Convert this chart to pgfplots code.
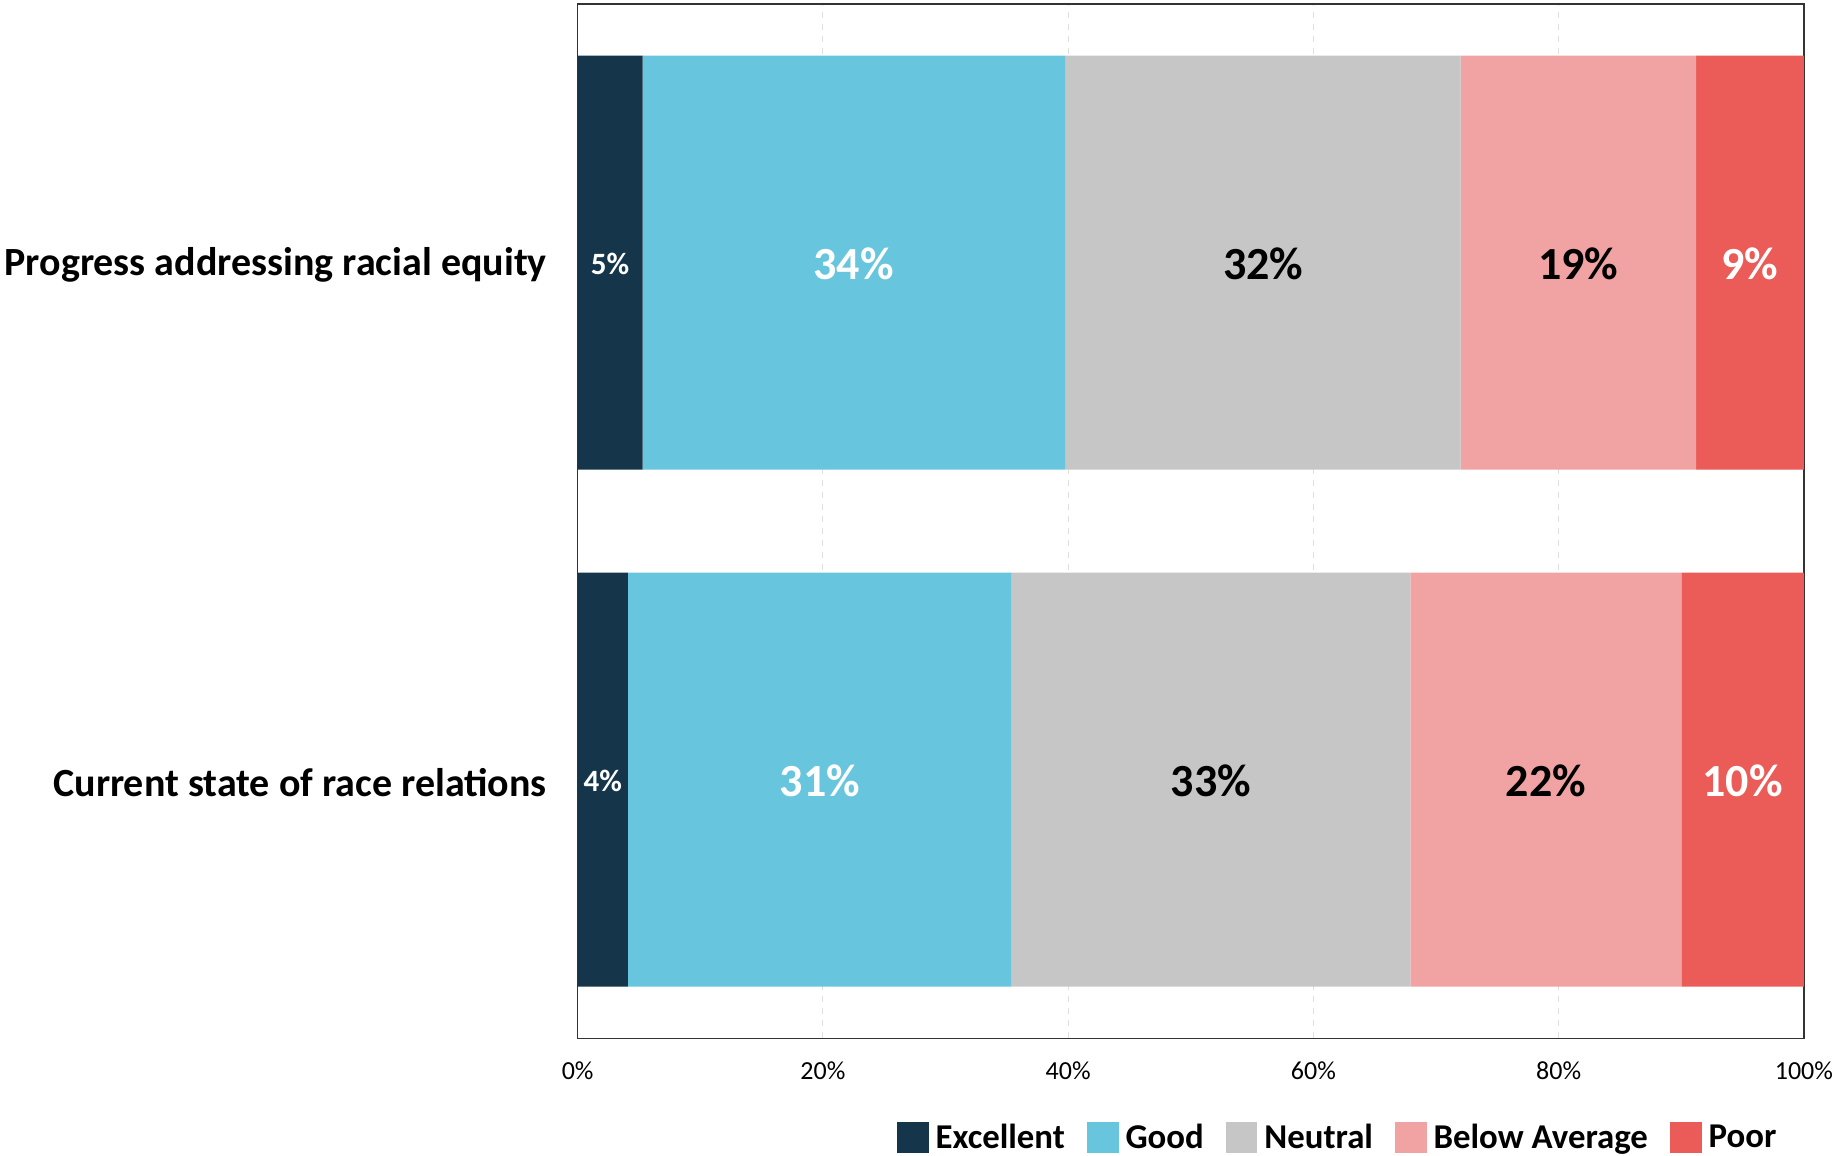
\documentclass[border=0pt]{standalone}
\usepackage{pgfplots}
\pgfplotsset{compat=1.18}
\usepackage{fontspec}
\setmainfont{Carlito}
\definecolor{cExc}{HTML}{15354A}
\definecolor{cGood}{HTML}{68C5DE}
\definecolor{cNeu}{HTML}{C6C6C6}
\definecolor{cBel}{HTML}{F0A3A2}
\definecolor{cPoor}{HTML}{EB5B57}
\tikzset{big/.style={font=\fontsize{23}{26}\selectfont\bfseries, yshift=-0.5pt},
         sm/.style={font=\fontsize{15.5}{18}\selectfont\bfseries, yshift=-0.5pt}}
\begin{document}
\begin{tikzpicture}
\begin{axis}[
  scale only axis,
  width=613pt, height=517pt,
  xbar stacked,
  bar width=207pt,
  xmin=0, xmax=100,
  ymin=-0.5, ymax=1.5,
  ytick={0,1},
  yticklabels={Current state of race relations, Progress addressing racial equity},
  yticklabel style={font=\fontsize{20}{24}\selectfont\bfseries, inner xsep=2.3pt, xshift=-12.9pt, yshift=-1.3pt},
  xtick={0,20,40,60,80,100},
  xticklabels={0\%,20\%,40\%,60\%,80\%,100\%},
  xticklabel style={font=\fontsize{13}{15}\selectfont, inner xsep=0pt, yshift=-8pt},
  /pgf/number format/assume math mode=true,
  major tick length=0pt,
  xmajorgrids,
  major grid style={dashed, gray!25, line width=0.6pt},
  axis line style={gray!40!black, line width=0.7pt},
  legend columns=-1,
  legend style={draw=none, at={(0.986,-0.096)}, anchor=east, inner ysep=0pt,
    font=\fontsize{17.4}{20}\selectfont\bfseries,
    /tikz/every even column/.append style={column sep=9pt},
    /tikz/every odd column/.append style={column sep=1.5pt}},
  legend image code/.code={\fill[#1] (0pt,-7.9pt) rectangle (15.8pt,7.9pt);},
]
\addplot[fill=cExc, draw=none] coordinates {(4.1,0) (5.3,1)};
\addplot[fill=cGood, draw=none] coordinates {(31.3,0) (34.45,1)};
\addplot[fill=cNeu, draw=none] coordinates {(32.5,0) (32.25,1)};
\addplot[fill=cBel, draw=none] coordinates {(22.1,0) (19.2,1)};
\addplot[fill=cPoor, draw=none] coordinates {(10.0,0) (8.8,1)};
\legend{Excellent, Good, Neutral, Below Average, Poor}
\end{axis}
\begin{axis}[
  scale only axis,
  width=613pt, height=517pt,
  xmin=0, xmax=100,
  ymin=-0.5, ymax=1.5,
  hide axis,
]
\node[sm, white] at (axis cs:2.65,1) {5\%};
\node[big, white] at (axis cs:22.5,1) {34\%};
\node[big, black] at (axis cs:55.9,1) {32\%};
\node[big, black] at (axis cs:81.6,1) {19\%};
\node[big, white] at (axis cs:95.6,1) {9\%};
\node[sm, white] at (axis cs:2.05,0) {4\%};
\node[big, white] at (axis cs:19.75,0) {31\%};
\node[big, black] at (axis cs:51.65,0) {33\%};
\node[big, black] at (axis cs:78.95,0) {22\%};
\node[big, white] at (axis cs:95.0,0) {10\%};
\end{axis}
\path (0,519pt) rectangle (1pt,518.7pt);
\end{tikzpicture}
\end{document}
